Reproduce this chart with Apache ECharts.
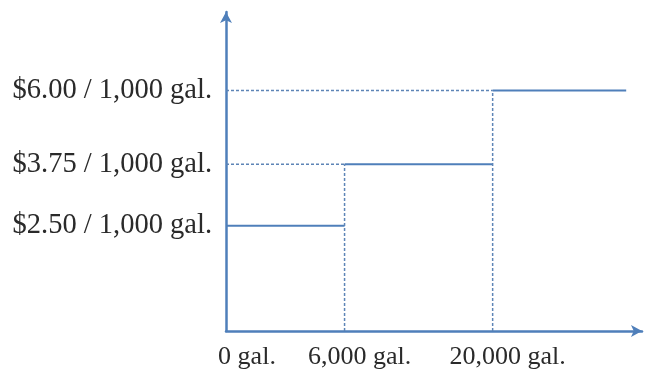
<!DOCTYPE html>
<html>
<head>
<meta charset="utf-8">
<script src="https://cdn.jsdelivr.net/npm/echarts@6/dist/echarts.min.js"></script>
<style>
html,body{margin:0;padding:0;background:#fff;}
#chart{width:646px;height:377px;}
</style>
</head>
<body>
<div id="chart"></div>
<script>
// Tier data (diagram is schematic, not to scale)
var tierStarts = [0, 6000, 20000];              // gallons
var tierRates = [2.50, 3.75, 6.00];             // $ per 1,000 gal
var xTickLabels = ['0 gal.', '6,000 gal.', '20,000 gal.'];
var yTickLabels = ['$2.50 / 1,000 gal.', '$3.75 / 1,000 gal.', '$6.00 / 1,000 gal.'];
// schematic axis positions of the tier boundaries and rate levels
var xPos = [0, 28.5, 64.1];
var xLastEnd = 96.2;
var yPos = [33.0, 52.3, 75.4];

var axisColor = '#4f7fba';
var stepColor = '#4f7fba';
var dashColor = '#5d84b6';
var textColor = '#2a2a2a';
var font = 'Liberation Serif';

var series = [];
for (var i = 0; i < tierStarts.length; i++) {
  var x0 = xPos[i];
  var x1 = i + 1 < xPos.length ? xPos[i + 1] : xLastEnd;
  series.push({
    type: 'line', symbol: 'none', silent: true,
    lineStyle: { color: stepColor, width: 2 },
    data: [[x0, yPos[i]], [x1, yPos[i]]]
  });
  if (i > 0) {
    series.push({
      type: 'line', symbol: 'none', silent: true,
      lineStyle: { color: dashColor, width: 1.5, type: [3, 2] },
      data: [[0, yPos[i]], [x0, yPos[i]]]
    });
    series.push({
      type: 'line', symbol: 'none', silent: true,
      lineStyle: { color: dashColor, width: 1.5, type: [3, 2] },
      data: [[x0, 0], [x0, yPos[i]]]
    });
  }
}

var chart = echarts.init(document.getElementById('chart'), null, { renderer: 'canvas' });
chart.setOption({
  animation: false,
  backgroundColor: '#ffffff',
  grid: { left: 226, right: 4, top: 12, bottom: 46 },
  xAxis: {
    type: 'value', min: 0, max: 100,
    splitLine: { show: false },
    axisTick: { show: false },
    axisLine: { show: true, lineStyle: { color: axisColor, width: 2.5 }, symbol: ['none', 'arrow'], symbolSize: [9, 11] },
    axisLabel: {
      customValues: xPos,
      margin: 13,
      color: textColor, fontFamily: font, fontSize: 26,
      padding: [0, 0, 0, 30],
      rich: {
        first: { color: textColor, fontFamily: font, fontSize: 26, padding: [0, 0, 0, 12] },
        rest: { color: textColor, fontFamily: font, fontSize: 26 }
      },
      formatter: function (v) {
        var k = xPos.indexOf(v);
        if (k < 0) return '';
        return (k === 0 ? '{first|' : '{rest|') + xTickLabels[k] + '}';
      }
    }
  },
  yAxis: {
    type: 'value', min: 0, max: 100,
    splitLine: { show: false },
    axisTick: { show: false },
    axisLine: { show: true, lineStyle: { color: axisColor, width: 2.5 }, symbol: ['none', 'arrow'], symbolSize: [9, 11] },
    axisLabel: {
      customValues: yPos,
      margin: 14,
      color: textColor, fontFamily: font, fontSize: 28.5,
      padding: [0, 0, 4, 0],
      formatter: function (v) { var k = yPos.indexOf(v); return k >= 0 ? yTickLabels[k] : ''; }
    }
  },
  series: series
});
</script>
</body>
</html>
